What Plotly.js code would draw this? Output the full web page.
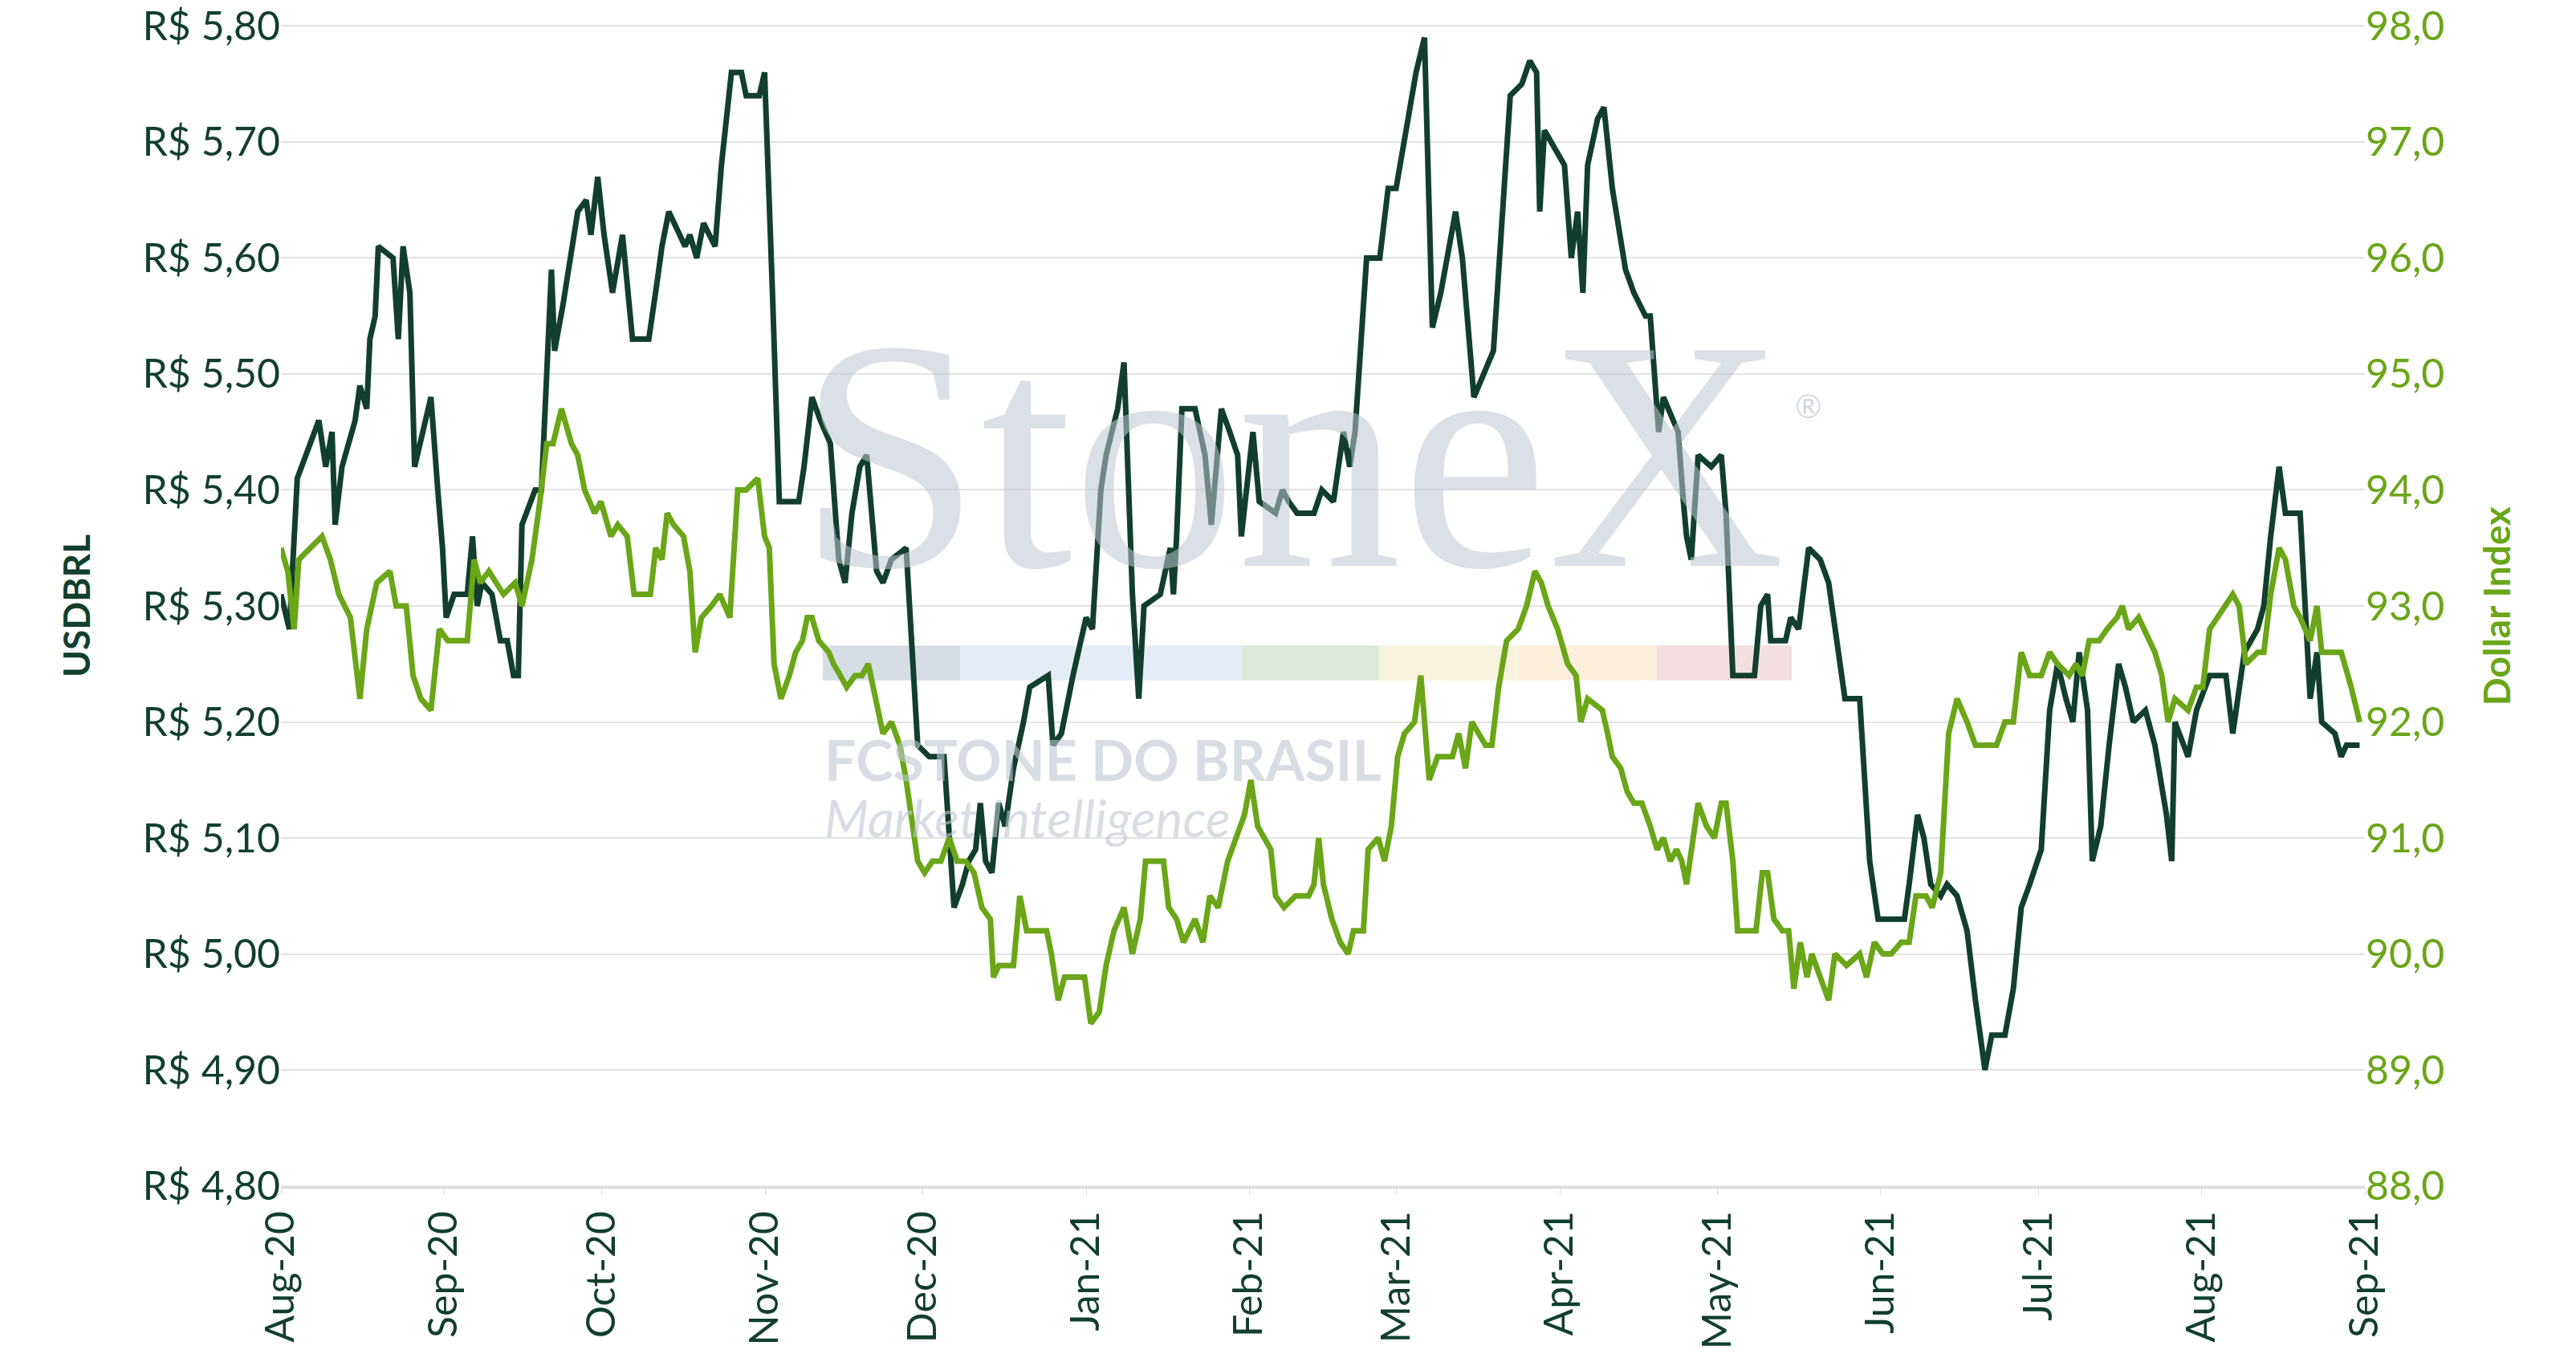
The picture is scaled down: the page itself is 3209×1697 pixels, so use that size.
<!DOCTYPE html>
<html>
<head>
<meta charset="utf-8">
<script src="https://cdn.plot.ly/plotly-3.0.1.min.js"></script>
<style>body{margin:0;background:#fff}#chart{width:3209px;height:1697px}</style>
</head>
<body>
<div id="chart"></div>
<script>
// days since 2020-08-01 and values
const brlDays = [0,1.6,3.1,7.2,8.5,9.7,10.3,11.6,14.1,15,16.3,16.9,17.9,18.5,21.3,22.3,23.2,24.5,25.4,27,28.5,29.8,30.7,31.4,32.9,35.4,36.4,37.3,38.2,40.1,41.7,43,44.2,45.1,45.8,48.3,49.5,51.4,52,53.6,55.5,56.4,58,58.9,60.2,61.4,63,64.9,66.8,69.9,71.5,72.4,73.7,76.8,77.7,79,80.3,82.5,83.7,85.6,87.5,88.4,90.9,91.9,93.4,94.7,96.2,98.4,99.4,100.9,102.5,104.4,106,107.2,108.5,110,111.3,113.2,114.4,116,118.8,119.8,121,123.2,126,127.9,129.5,130.7,132,132.9,133.9,135.1,136.4,137.6,139.2,141.1,142.3,145.8,146.7,148.3,150.5,153,154.2,155.8,156.8,159,160.2,161.8,163,164,167.1,169,169.6,170.2,171.2,173.7,175.6,176.8,178.7,180.3,181.8,182.5,183.4,184.7,185.9,189,190.3,191.5,193.1,194.4,196.3,197.8,200,201.9,203.1,204.1,206.3,208.8,210.4,211.9,213.8,215.7,217.3,218.8,220.4,223.2,224.5,226.7,230.4,232,233.6,235.8,237.3,238.6,239.2,240.1,243.9,245.2,246.4,247.4,248.3,250.2,251.4,253,255.5,257.1,259.3,260.2,261.8,262.7,265.5,266.5,267.1,268,269.3,271.8,273.7,274.6,275.9,278.4,280,281.2,282.5,283.1,285.9,286.9,288.4,290.3,292.5,294.1,296.3,297.2,300,301.9,303.5,305,308.5,309.4,311,312.2,313.5,315.4,316.6,318.5,320.4,322,323.8,325.1,327.6,329.2,330.7,332.3,334.5,336.1,337.6,339.2,340.5,341.7,343.3,344.2,345.8,347.4,349.2,350.5,352,354.3,356.1,358.3,359.3,359.9,362.4,364,366.5,369.6,370.9,373.1,375.6,376.8,378.1,379.7,380.9,383.7,385.6,386.9,387.8,390.3,391.5,392.5,395];
const brlValues = [5.31,5.28,5.41,5.46,5.42,5.45,5.37,5.42,5.46,5.49,5.47,5.53,5.55,5.61,5.60,5.53,5.61,5.57,5.42,5.45,5.48,5.40,5.35,5.29,5.31,5.31,5.36,5.30,5.32,5.31,5.27,5.27,5.24,5.24,5.37,5.40,5.40,5.59,5.52,5.56,5.61,5.64,5.65,5.62,5.67,5.62,5.57,5.62,5.53,5.53,5.58,5.61,5.64,5.61,5.62,5.60,5.63,5.61,5.68,5.76,5.76,5.74,5.74,5.76,5.57,5.39,5.39,5.39,5.42,5.48,5.46,5.44,5.34,5.32,5.38,5.42,5.43,5.33,5.32,5.34,5.35,5.27,5.18,5.17,5.17,5.04,5.06,5.08,5.09,5.13,5.08,5.07,5.13,5.11,5.16,5.20,5.23,5.24,5.18,5.19,5.24,5.29,5.28,5.40,5.43,5.47,5.51,5.31,5.22,5.30,5.31,5.35,5.31,5.36,5.47,5.47,5.43,5.37,5.47,5.45,5.43,5.36,5.40,5.45,5.39,5.38,5.40,5.39,5.38,5.38,5.38,5.40,5.39,5.45,5.42,5.45,5.60,5.60,5.66,5.66,5.71,5.76,5.79,5.54,5.57,5.64,5.60,5.48,5.52,5.64,5.74,5.75,5.77,5.76,5.64,5.71,5.68,5.60,5.64,5.57,5.68,5.72,5.73,5.66,5.59,5.57,5.55,5.55,5.45,5.48,5.45,5.39,5.36,5.34,5.43,5.42,5.43,5.38,5.24,5.24,5.24,5.30,5.31,5.27,5.27,5.29,5.28,5.35,5.34,5.32,5.25,5.22,5.22,5.08,5.03,5.03,5.03,5.06,5.12,5.10,5.06,5.05,5.06,5.05,5.02,4.96,4.90,4.93,4.93,4.97,5.04,5.06,5.09,5.21,5.25,5.22,5.20,5.26,5.21,5.08,5.11,5.18,5.25,5.23,5.20,5.21,5.18,5.12,5.08,5.20,5.17,5.21,5.24,5.24,5.19,5.26,5.28,5.30,5.36,5.42,5.38,5.38,5.22,5.26,5.20,5.19,5.17,5.18,5.18];

const dxyDays = [0,1.3,2.5,3.4,5.6,7.8,9.4,11,13.2,15,16.3,18.2,20.7,21.9,23.8,25.1,26.6,28.5,30.1,31.7,35.4,36.7,37.9,39.5,42.3,44.5,45.8,47.7,49.2,50.5,51.7,53.3,55.2,56.4,57.7,59.6,60.8,62.7,64,65.8,67.1,70.2,71.2,72.4,73.4,74.6,76.5,77.7,78.7,79.9,81.8,83.4,85.3,86.8,88.4,90.6,91.9,92.8,93.7,95,96.6,97.8,99.1,100,100.9,102.2,104.1,105,106.3,107.5,109.1,110.4,111.6,112.9,114.4,116,117.6,118.8,120.1,121,122.3,123.8,125.4,127,128.5,130.1,131.7,133.2,134.8,135.4,136.4,139.2,140.4,141.7,145.5,146.4,147.7,148.9,152.7,153.9,155.5,156.8,158.3,160.2,161.8,163.3,164.3,167.7,168.7,170.2,171.5,173.7,175.2,176.5,178.1,179.9,181.5,183.1,184.3,185.6,188.1,189,190.6,192.8,195.3,196.3,197.2,198.1,199.7,201.3,202.8,203.8,205.7,206.6,208.5,209.7,211,212.2,213.5,215.4,216.6,218.2,219.8,222.6,223.8,225.1,226.3,227.6,228.9,230.1,231.4,232.9,235.1,236.7,238.3,239.5,240.8,242.6,244.5,246.1,247,248.3,251.1,252.1,253,254.6,255.8,257.1,258.6,260.2,261.5,262.7,264,265.2,266.2,267.1,268.4,269.3,270.9,272.4,273.7,274.6,275.9,276.8,279,280.3,281.5,282.5,283.7,285.3,286.5,287.5,288.7,290,290.9,292.5,294.1,295.3,297.5,300,301.3,302.8,304.4,306,307.9,309.4,310.7,312.6,313.8,315.4,316.9,318.5,320.4,322,324.8,326,327.6,329.2,330.7,332.3,334.5,336.1,337.6,339.8,341.1,342.3,343.6,345.5,347,348.9,349.9,351.1,353,354.9,356.1,357.4,358.6,359.9,362.4,364,365.2,366.5,368,369.6,370.9,372.1,373.4,375.6,376.8,378.1,379.7,380.9,382.5,383.7,385.6,386.9,387.8,390,391.5,393.4,395];
const dxyValues = [93.5,93.3,92.8,93.4,93.5,93.6,93.4,93.1,92.9,92.2,92.8,93.2,93.3,93.0,93.0,92.4,92.2,92.1,92.8,92.7,92.7,93.4,93.2,93.3,93.1,93.2,93.0,93.4,93.9,94.4,94.4,94.7,94.4,94.3,94.0,93.8,93.9,93.6,93.7,93.6,93.1,93.1,93.5,93.4,93.8,93.7,93.6,93.3,92.6,92.9,93.0,93.1,92.9,94.0,94.0,94.1,93.6,93.5,92.5,92.2,92.4,92.6,92.7,92.9,92.9,92.7,92.6,92.5,92.4,92.3,92.4,92.4,92.5,92.2,91.9,92.0,91.8,91.5,91.1,90.8,90.7,90.8,90.8,91.0,90.8,90.8,90.7,90.4,90.3,89.8,89.9,89.9,90.5,90.2,90.2,90.0,89.6,89.8,89.8,89.4,89.5,89.9,90.2,90.4,90.0,90.3,90.8,90.8,90.4,90.3,90.1,90.3,90.1,90.5,90.4,90.8,91.0,91.2,91.5,91.1,90.9,90.5,90.4,90.5,90.5,90.6,91.0,90.6,90.3,90.1,90.0,90.2,90.2,90.9,91.0,90.8,91.1,91.7,91.9,92.0,92.4,91.5,91.7,91.7,91.9,91.6,92.0,91.9,91.8,91.8,92.3,92.7,92.8,93.0,93.3,93.2,93.0,92.8,92.5,92.4,92.0,92.2,92.1,91.9,91.7,91.6,91.4,91.3,91.3,91.1,90.9,91.0,90.8,90.9,90.8,90.6,91.0,91.3,91.1,91.0,91.3,91.3,90.8,90.2,90.2,90.2,90.7,90.7,90.3,90.2,90.2,89.7,90.1,89.8,90.0,89.8,89.6,90.0,89.9,90.0,89.8,90.1,90.0,90.0,90.1,90.1,90.5,90.5,90.4,90.7,91.9,92.2,92.0,91.8,91.8,91.8,92.0,92.0,92.6,92.4,92.4,92.6,92.5,92.4,92.5,92.4,92.7,92.7,92.8,92.9,93.0,92.8,92.9,92.7,92.6,92.4,92.0,92.2,92.1,92.3,92.3,92.8,92.9,93.0,93.1,93.0,92.5,92.6,92.6,93.1,93.5,93.4,93.0,92.9,92.7,93.0,92.6,92.6,92.6,92.3,92.0];

const monthTicks = ['2020-08-01','2020-09-01','2020-10-01','2020-11-01','2020-12-01','2021-01-01','2021-02-01','2021-03-01','2021-04-01','2021-05-01','2021-06-01','2021-07-01','2021-08-01','2021-09-01'];
const monthLabels = ['Aug-20','Sep-20','Oct-20','Nov-20','Dec-20','Jan-21','Feb-21','Mar-21','Apr-21','May-21','Jun-21','Jul-21','Aug-21','Sep-21'];
const brlTicks = [4.8, 4.9, 5.0, 5.1, 5.2, 5.3, 5.4, 5.5, 5.6, 5.7, 5.8];
const dxyTicks = [88, 89, 90, 91, 92, 93, 94, 95, 96, 97, 98];

const dark = '#123f2d', green = '#6aa618'
const start = Date.UTC(2020, 7, 1)
function toDate(d) {
    return new Date(start + d * 86400000).toISOString().slice(0, 19)
}
const comma = (v, n) => v.toFixed(n).replace('.', ',')

const traces = [
    {x: dxyDays.map(toDate), y: dxyValues, yaxis: 'y2', mode: 'lines', line: {color: green, width: 7}, name: 'Dollar Index'},
    {x: brlDays.map(toDate), y: brlValues, mode: 'lines', line: {color: dark, width: 7}, name: 'USDBRL'},
]

const bars = [['#d7dde5',0.26,0.326],['#e4ecf6',0.326,0.461],['#dde8dc',0.461,0.527],['#f8f3dc',0.527,0.594],['#fbeedb',0.594,0.66],['#f4e0e0',0.66,0.725]]
const shapes = bars.map(b => ({type: 'rect', xref: 'paper', yref: 'paper', x0: b[1], x1: b[2], y0: 0.436, y1: 0.466, fillcolor: b[0], line: {width: 0}, layer: 'below'}))

const tickFont = {family: 'Lato, sans-serif', size: 50}
const layout = {
    width: 3209, height: 1697,
    margin: {l: 350, r: 263, t: 31, b: 218},
    showlegend: false,
    plot_bgcolor: '#fff', paper_bgcolor: '#fff',
    shapes: shapes,
    xaxis: {
        type: 'date', range: ['2020-08-01', '2021-09-01'],
        tickvals: monthTicks, ticktext: monthLabels, tickangle: -90,
        tickfont: Object.assign({color: dark}, tickFont),
        showgrid: false, showline: true, linecolor: '#d9d9d9', linewidth: 2,
        ticks: 'outside', ticklen: 8, tickcolor: '#d9d9d9'
    },
    yaxis: {
        range: [4.799, 5.801], tickvals: brlTicks, ticktext: brlTicks.map(v => 'R$ ' + comma(v, 2)),
        tickfont: Object.assign({color: dark}, tickFont), ticklabeloverflow: 'allow',
        gridcolor: '#e3e3e3', gridwidth: 2, zeroline: false,
        title: {text: '<b>USDBRL</b>', font: {family: 'Lato, sans-serif', size: 46, color: dark}, standoff: 50}
    },
    yaxis2: {
        overlaying: 'y', side: 'right', range: [87.99, 98.01], tickvals: dxyTicks, ticktext: dxyTicks.map(v => comma(v, 1)),
        tickfont: Object.assign({color: green}, tickFont), ticklabeloverflow: 'allow', showgrid: false, zeroline: false,
        title: {text: '<b>Dollar Index</b>', font: {family: 'Lato, sans-serif', size: 46, color: green}, standoff: 50}
    },
    annotations: [
        {xref: 'paper', yref: 'paper', x: 0.485, y: 0.63, text: 'StoneX', showarrow: false,
         font: {family: 'Liberation Serif, serif', size: 410, color: 'rgba(190,198,210,0.55)'}},
        {xref: 'paper', yref: 'paper', x: 0.74, y: 0.69, text: '®', showarrow: false,
         font: {family: 'Lato', size: 40, color: 'rgba(190,198,210,0.7)'}},
        {xref: 'paper', yref: 'paper', x: 0.26, y: 0.368, xanchor: 'left', text: '<b>FCSTONE DO BRASIL</b>', showarrow: false,
         font: {family: 'Lato', size: 70, color: 'rgba(190,198,210,0.6)'}},
        {xref: 'paper', yref: 'paper', x: 0.26, y: 0.29, xanchor: 'left', text: '<i>Market Intelligence</i>', showarrow: false,
         font: {family: 'Lato', size: 64, color: 'rgba(190,198,210,0.6)'}}
    ]
}

Plotly.newPlot('chart', traces, layout, {displayModeBar: false})
</script>
</body>
</html>
